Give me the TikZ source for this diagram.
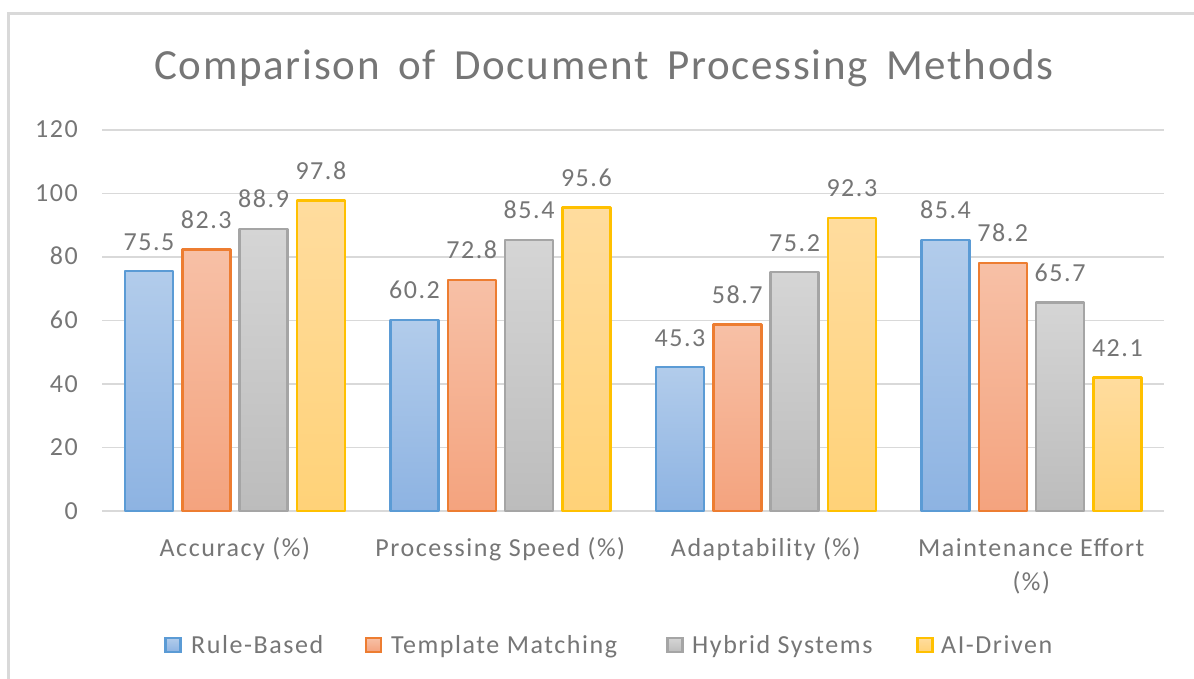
\documentclass[tikz,border=0pt]{standalone}
\usepackage{fontspec}
\setmainfont[LetterSpace=6]{Carlito}
\newfontfamily\titlefont[LetterSpace=4]{Carlito}
\definecolor{txt}{HTML}{767676}
\definecolor{grid}{HTML}{D9D9D9}
\definecolor{lnA}{HTML}{5B9BD5}\definecolor{tpA}{HTML}{B2CCEB}\definecolor{btA}{HTML}{8DB3E2}
\definecolor{lnB}{HTML}{ED7D31}\definecolor{tpB}{HTML}{F7C0A6}\definecolor{btB}{HTML}{F4A37E}
\definecolor{lnC}{HTML}{A5A5A5}\definecolor{tpC}{HTML}{D5D5D5}\definecolor{btC}{HTML}{BCBCBC}
\definecolor{lnD}{HTML}{FFC000}\definecolor{tpD}{HTML}{FFDC9E}\definecolor{btD}{HTML}{FFD278}
\tikzset{
  gridline/.style={draw=grid,line width=1.3pt},
  barA/.style={draw=lnA,top color=tpA,bottom color=btA},
  barB/.style={draw=lnB,top color=tpB,bottom color=btB},
  barC/.style={draw=lnC,top color=tpC,bottom color=btC},
  barD/.style={draw=lnD,top color=tpD,bottom color=btD},
  barbox/.style={line width=2.4pt,line join=round},
  lbl/.style={text=txt,font=\fontsize{26}{30}\selectfont,inner sep=0pt},
  ticklbl/.style={lbl,anchor=base east},
  vallbl/.style={lbl,anchor=base},
  catlbl/.style={lbl,anchor=base,align=center},
  legbox/.style={line width=2.4pt,minimum width=15pt,minimum height=14pt,inner sep=0pt},
  leglbl/.style={lbl,anchor=base west},
}
\begin{document}
\begin{tikzpicture}[x=1pt,y=-1pt]
\useasboundingbox (0,0) rectangle (1194,679);
\fill[white] (0,0) rectangle (1194,679);
% chart frame
\draw[grid,line width=3pt] (8.5,679) -- (8.5,13.5) -- (1194,13.5);
% title
\node[text=txt,font=\titlefont\fontsize{43}{47}\selectfont,inner sep=0pt,anchor=base] (title) at (604,80) {Comparison\, of\, Document\, Processing\, Methods};
% grid and ticks
\foreach \v/\nm in {0/t0,20/t20,40/t40,60/t60,80/t80,100/t100,120/t120}{
  \draw[gridline] (102,{511-\v*3.175}) -- (1164,{511-\v*3.175});
  \node[ticklbl] (\nm) at (78,{511-\v*3.175+8}) {\v};
}
% bars
\foreach \i/\a/\b/\c/\d in {0/75.5/82.3/88.9/97.8,1/60.2/72.8/85.4/95.6,2/45.3/58.7/75.2/92.3,3/85.4/78.2/65.7/42.1}{
  \foreach \j/\v/\s in {0/\a/barA,1/\b/barB,2/\c/barC,3/\d/barD}{
    \pgfmathsetmacro{\xl}{125+265.5*\i+57.3*\j}
    \pgfmathsetmacro{\yt}{511-\v*3.175}
    \draw[\s,barbox] (\xl,511) rectangle (\xl+48,\yt);
    \node[vallbl] (v-\i-\j) at (\xl+24,\yt-21) {\v};
  }
}
% category labels
\node[catlbl] (c0) at (234.75,556) {Accuracy (\%)};
\node[catlbl] (c1) at (500.25,556) {Processing Speed (\%)};
\node[catlbl] (c2) at (765.75,556) {Adaptability (\%)};
\node[catlbl] (c3) at (1031.25,556) {Maintenance Effort};
\node[catlbl] (c3b) at (1031.25,590) {(\%)};
% legend
\node[legbox,barA] (k0) at (173,645) {};
\node[leglbl] (l0) at (191,653) {Rule-Based};
\node[legbox,barB] (k1) at (373.5,645) {};
\node[leglbl] (l1) at (391,653) {Template Matching};
\node[legbox,barC] (k2) at (675,645) {};
\node[leglbl] (l2) at (692,653) {Hybrid Systems};
\node[legbox,barD] (k3) at (925,645) {};
\node[leglbl] (l3) at (941,653) {AI-Driven};
\end{tikzpicture}
\end{document}
